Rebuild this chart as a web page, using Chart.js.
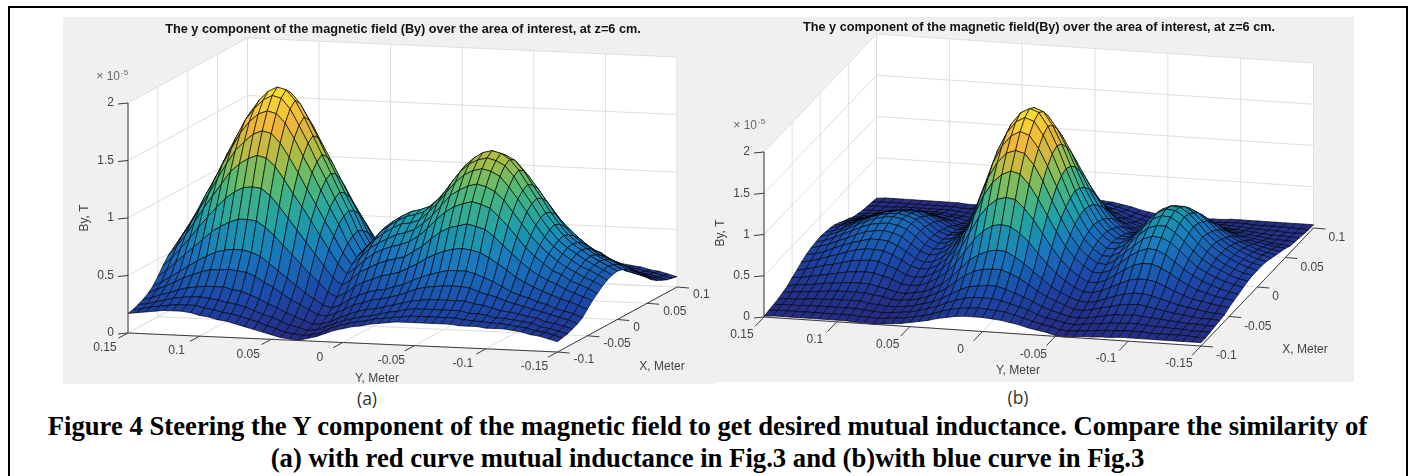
<!DOCTYPE html>
<html>
<head>
<meta charset="utf-8">
<title>Figure 4</title>
<script src="https://cdn.jsdelivr.net/npm/chart.js@4"></script>
<style>
  html, body { margin: 0; padding: 0; background: #fff; }
  #page { position: relative; width: 1410px; height: 476px; overflow: hidden; }
  #frame { position: absolute; left: 8px; top: 6px; width: 1396px; height: 480px; border: 2px solid #000; }
  canvas { position: absolute; background: #f0f0f0; }
  #chartA { left: 63px; top: 17px; }
  #chartB { left: 715px; top: 17px; }
  .sub { position: absolute; font: 17.5px "Open Sans", sans-serif; color: #333; transform: translateX(-50%); }
  .cap { position: absolute; left: 0; width: 1415px; text-align: center; font: bold 26.7px "Liberation Serif", serif; color: #000; white-space: nowrap; }
</style>
</head>
<body>
<div id="page">
  <div id="frame"></div>
  <canvas id="chartA" width="652" height="367"></canvas>
  <canvas id="chartB" width="639" height="365"></canvas>
  <div class="sub" style="left:367px;top:386px">(a)</div>
  <div class="sub" style="left:1018px;top:385px">(b)</div>
  <div class="cap" style="top:411px">Figure 4 Steering the Y component of the magnetic field to get desired mutual inductance. Compare the similarity of</div>
  <div class="cap" style="top:443px">(a) with red curve mutual inductance in Fig.3 and (b)with blue curve in Fig.3</div>
</div>
<script>
// axis ticks
const yTicks = [0.15, 0.1, 0.05, 0, -0.05, -0.1, -0.15];
const xTicks = [-0.1, -0.05, 0, 0.05, 0.1];
const zTicks = [0, 0.5, 1, 1.5, 2];

const titleA = 'The y component of the magnetic field (By) over the area of interest, at z=6 cm.';
const titleB = 'The y component of the magnetic field(By) over the area of interest, at z=6 cm.';

// By in units of 1e-7 T. Rows go from X=-0.1 to X=0, columns from Y=0.15 to Y=-0.15.
// The field is symmetric about X=0 so the rows for X>0 reuse these.
const byA0 = [17,18,19,20,21,21,21,20,18,17,15,14,12,10,8,6,4,2,1,0,2,4,7,10,12,14,15,17,18,19,20,20,20,20,20,20,20,19,19,19,18,18,18,17,16,14,13,11,9];
const byA1 = [18,19,21,22,23,24,24,24,22,21,19,18,16,14,12,9,7,4,3,2,3,5,9,12,14,16,17,19,20,21,22,23,23,23,23,23,23,22,21,21,20,20,19,18,17,15,14,12,10];
const byA2 = [20,21,23,25,27,28,29,29,28,27,25,24,22,19,16,14,11,8,6,4,5,8,11,14,16,18,19,21,23,24,26,27,27,27,27,27,27,25,25,24,22,22,21,20,19,16,15,13,11];
const byA3 = [22,24,27,29,32,34,35,36,36,36,34,33,30,27,23,20,16,13,10,7,8,10,14,17,20,22,23,25,27,29,31,32,33,33,33,33,33,31,30,28,26,25,24,22,21,18,17,15,13];
const byA4 = [25,29,32,36,40,43,46,48,48,49,48,47,44,39,35,30,25,21,17,13,12,15,19,23,25,28,29,31,33,36,39,41,42,43,43,43,42,39,37,35,32,30,28,26,24,22,20,18,15];
const byA5 = [29,33,38,43,48,53,57,61,63,64,64,62,59,53,47,41,35,29,24,19,17,20,25,29,32,34,35,38,40,44,47,50,52,54,54,54,52,49,46,42,38,35,33,30,28,25,23,21,18];
const byA6 = [35,41,48,55,62,69,76,81,85,88,88,87,82,75,67,59,51,43,36,28,24,28,34,38,41,44,46,48,52,56,61,65,68,70,71,70,68,64,59,54,48,44,40,37,34,31,29,26,23];
const byA7 = [42,49,58,67,77,86,95,103,109,113,114,113,107,98,88,78,68,58,48,38,32,37,44,48,52,55,57,59,64,69,76,82,86,88,90,88,86,80,73,66,59,53,48,44,41,37,34,31,28];
const byA8 = [48,57,67,79,91,102,113,124,131,136,139,137,130,119,107,96,84,72,60,48,39,45,52,58,62,65,67,70,75,82,90,97,102,105,107,105,102,95,87,78,69,62,56,50,47,42,39,36,32];
const byA9 = [52,63,75,88,101,115,128,140,148,155,158,156,148,136,123,109,96,82,69,55,45,52,60,65,69,73,75,78,84,91,100,109,114,118,120,118,114,107,97,87,77,69,62,56,51,47,43,40,36];
const byA10 = [56,68,81,96,110,125,139,153,163,170,173,171,163,150,135,121,106,91,77,61,49,57,65,71,76,80,81,84,91,99,109,118,125,129,131,129,125,116,106,95,84,74,66,60,55,50,47,43,39];
const byA11 = [59,71,85,101,116,132,147,162,172,180,184,182,173,159,144,128,113,97,82,65,52,60,69,75,80,84,86,89,96,104,115,125,132,136,138,136,132,123,111,100,88,78,69,63,58,53,49,45,41];
const byA12 = [60,73,87,103,119,135,151,166,177,185,189,187,178,164,148,132,116,100,84,67,54,62,71,77,82,86,88,91,98,107,118,128,135,140,142,140,135,126,114,102,90,80,71,64,59,54,50,46,42];
const gridA = [byA0, byA1, byA2, byA3, byA4, byA5, byA6, byA7, byA8, byA9, byA10, byA11, byA12, byA11, byA10, byA9, byA8, byA7, byA6, byA5, byA4, byA3, byA2, byA1, byA0];

const byB0 = [1,2,2,2,2,2,2,2,2,2,1,1,0,1,2,3,5,7,9,12,14,16,17,17,17,16,15,13,11,8,6,4,1,0,1,2,2,3,3,4,4,4,4,4,4,4,4,4,4];
const byB1 = [2,3,3,3,3,3,3,3,3,3,2,2,1,2,3,4,6,8,11,15,18,20,21,22,21,20,19,16,13,10,7,5,2,1,2,3,4,5,5,6,6,6,5,5,5,5,5,4,4];
const byB2 = [3,4,4,4,5,5,5,5,5,5,4,3,2,3,4,5,8,11,14,19,23,26,28,28,28,26,23,20,17,12,9,7,4,3,4,6,6,8,8,9,9,8,7,7,6,6,5,5,5];
const byB3 = [4,5,5,6,7,7,8,8,8,8,6,5,4,4,5,7,10,13,18,24,30,34,36,37,37,34,30,26,21,16,12,9,6,5,6,8,10,12,12,13,12,11,10,9,8,7,7,6,6];
const byB4 = [6,7,8,9,10,11,12,12,12,12,10,9,6,6,7,9,13,18,24,33,41,47,50,51,51,47,42,35,28,22,17,13,9,8,10,13,15,18,19,20,18,16,14,12,11,9,8,8,7];
const byB5 = [8,10,11,12,14,15,16,17,17,17,14,12,9,8,10,12,17,23,32,43,54,61,66,68,67,61,54,45,37,28,22,17,13,12,14,18,22,25,27,27,25,22,19,16,14,12,10,9,8];
const byB6 = [12,13,15,17,19,21,23,24,25,24,21,18,13,12,13,17,23,31,43,58,73,84,91,93,91,84,74,61,49,38,30,23,18,18,21,26,31,36,38,38,36,31,26,22,18,16,14,12,11];
const byB7 = [15,17,20,23,25,28,31,32,33,32,28,24,18,16,17,22,29,40,55,75,94,108,117,120,118,108,95,79,63,49,38,30,24,24,28,35,42,48,51,51,47,41,34,28,23,20,17,15,13];
const byB8 = [19,21,24,28,31,35,38,40,40,39,35,29,23,20,21,26,35,48,67,90,114,131,141,146,143,131,114,95,76,59,46,37,30,30,34,43,52,59,63,62,57,49,41,34,28,24,20,17,15];
const byB9 = [22,24,27,32,36,40,43,46,46,45,40,34,26,22,24,30,39,55,75,102,130,149,161,165,162,149,130,107,86,67,52,42,35,34,40,50,59,68,72,71,66,57,47,38,32,27,23,20,17];
const byB10 = [24,27,30,35,39,44,48,50,51,49,45,37,29,25,27,33,43,60,83,112,142,163,176,182,178,163,142,118,94,74,57,46,38,38,44,55,66,75,79,79,72,62,51,42,35,30,25,21,19];
const byB11 = [25,28,32,37,42,47,51,53,54,52,48,40,31,26,28,35,46,63,88,119,151,173,187,193,189,173,151,125,99,78,60,49,41,41,47,58,70,80,85,84,77,66,54,45,37,31,26,22,20];
const byB12 = [26,29,33,38,43,48,52,55,56,54,49,41,32,27,29,36,47,65,90,122,155,178,192,198,194,178,155,128,102,80,62,50,42,42,48,60,72,82,87,86,79,68,56,46,38,32,27,23,20];
const gridB = [byB0, byB1, byB2, byB3, byB4, byB5, byB6, byB7, byB8, byB9, byB10, byB11, byB12, byB11, byB10, byB9, byB8, byB7, byB6, byB5, byB4, byB3, byB2, byB1, byB0];

// parula-ish colours for the surface, low to high
const colourStops = [[0.0,[38,42,130]],[0.15,[28,72,170]],[0.32,[24,120,190]],[0.45,[30,160,170]],[0.6,[80,185,120]],[0.72,[170,190,70]],[0.85,[240,180,60]],[1.0,[248,225,50]]];

function surfaceColour(t) {
  for (let i = 1; i < colourStops.length; i++) {
    if (t <= colourStops[i][0]) {
      const a = colourStops[i - 1], b = colourStops[i];
      const f = (t - a[0]) / (b[0] - a[0]);
      return 'rgb(' + [0, 1, 2].map(k => Math.round(a[1][k] + (b[1][k] - a[1][k]) * f)).join(',') + ')';
    }
  }
  return 'rgb(248,225,50)';
}

function line(points, colour, width) {
  return { type: 'line', data: points, borderColor: colour, borderWidth: width, pointRadius: 0, fill: false, tension: 0 };
}
function patch(points, colour, edge, width) {
  return { type: 'line', data: points, backgroundColor: colour, borderColor: edge, borderWidth: width, pointRadius: 0, fill: 'shape', tension: 0 };
}

function makeChart(id, left, top, grid, title, g) {
  const canvas = document.getElementById(id);
  const yMin = yTicks[yTicks.length - 1], yMax = yTicks[0];
  const xMin = xTicks[0], xMax = xTicks[xTicks.length - 1];

  // parallel projection of (Y, X, By) to the flat chart coordinates
  function project(Y, X, z) {
    const u = (yMax - Y) / (yMax - yMin);
    const v = (X - xMin) / (xMax - xMin);
    return { x: g.ox + g.ux * u + g.vx * v, y: g.oy + g.uy * u + g.vy * v - g.zy * z };
  }

  const zTop = zTicks[zTicks.length - 1];
  const front = [];   // axis rulers, drawn over the surface
  const mesh = [];
  const back = [];    // walls and grid lines

  // walls
  const wallBack = [project(yMax, xMax, 0), project(yMin, xMax, 0), project(yMin, xMax, zTop), project(yMax, xMax, zTop), project(yMax, xMax, 0)];
  const wallLeft = [project(yMax, xMin, 0), project(yMax, xMax, 0), project(yMax, xMax, zTop), project(yMax, xMin, zTop), project(yMax, xMin, 0)];
  const floor = [project(yMax, xMin, 0), project(yMin, xMin, 0), project(yMin, xMax, 0), project(yMax, xMax, 0), project(yMax, xMin, 0)];
  const gridCol = '#dedede';
  yTicks.forEach(t => {
    back.push(line([project(t, xMin, 0), project(t, xMax, 0), project(t, xMax, zTop)], gridCol, 1));
  });
  xTicks.forEach(t => {
    back.push(line([project(yMin, t, 0), project(yMax, t, 0), project(yMax, t, zTop)], gridCol, 1));
  });
  zTicks.forEach(t => {
    back.push(line([project(yMax, xMin, t), project(yMax, xMax, t), project(yMin, xMax, t)], gridCol, 1));
  });
  back.push(patch(wallBack, '#fff', '#fff', 0), patch(wallLeft, '#fff', '#fff', 0), patch(floor, '#fff', '#fff', 0));

  // surface quads, front row first since chart.js paints the first dataset last
  const rows = grid.length, cols = grid[0].length;
  let peak = 0;
  grid.forEach(r => r.forEach(v => { peak = Math.max(peak, v); }));
  const Yat = j => yMax - (yMax - yMin) * j / (cols - 1);
  const Xat = i => xMin + (xMax - xMin) * i / (rows - 1);
  for (let i = 0; i < rows - 1; i++) {
    for (let j = cols - 2; j >= 0; j--) {
      const z00 = grid[i][j] / 100, z01 = grid[i][j + 1] / 100, z11 = grid[i + 1][j + 1] / 100, z10 = grid[i + 1][j] / 100;
      const t = (z00 + z01 + z11 + z10) / 4 / (peak / 100);
      const p0 = project(Yat(j), Xat(i), z00);
      mesh.push(patch([p0, project(Yat(j + 1), Xat(i), z01), project(Yat(j + 1), Xat(i + 1), z11), project(Yat(j), Xat(i + 1), z10), p0],
        surfaceColour(t), 'rgba(0,0,0,0.85)', 0.75));
    }
  }

  // rulers and ticks
  const rulerCol = '#3c3c3c';
  front.push(line([project(yMax, xMin, 0), project(yMax, xMin, zTop)], rulerCol, 1));
  front.push(line([project(yMax, xMin, 0), project(yMin, xMin, 0), project(yMin, xMax, 0)], rulerCol, 1));
  zTicks.forEach(t => {
    const p = project(yMax, xMin, t);
    front.push(line([p, { x: p.x - 10, y: p.y + 1 }], rulerCol, 1));
  });
  yTicks.forEach(t => {
    const p = project(t, xMin, 0);
    front.push(line([p, { x: p.x - g.vx * 0.08, y: p.y - g.vy * 0.08 }], rulerCol, 1));
  });
  xTicks.forEach(t => {
    const p = project(yMin, t, 0);
    front.push(line([p, { x: p.x + 12, y: p.y + 1 }], rulerCol, 1));
  });

  const labels = {
    id: 'labels',
    afterDraw(chart) {
      const ctx = chart.ctx, sx = chart.scales.x, sy = chart.scales.y;
      const text = (s, x, y, align, font, colour) => {
        ctx.font = font;
        ctx.fillStyle = colour || '#444';
        ctx.textAlign = align;
        ctx.textBaseline = 'middle';
        ctx.fillText(s, sx.getPixelForValue(x), sy.getPixelForValue(y));
      };
      const tickFont = '12px "Liberation Sans"';
      yTicks.forEach(t => {
        const p = project(t, xMin, 0);
        text(String(t), p.x + g.yLabel[0], p.y + g.yLabel[1], 'center', tickFont);
      });
      xTicks.forEach(t => {
        const p = project(yMin, t, 0);
        text(String(t), p.x + g.xLabel[0], p.y + g.xLabel[1], 'left', tickFont);
      });
      zTicks.forEach(t => {
        const p = project(yMax, xMin, t);
        text(String(t), p.x - 14, p.y, 'right', tickFont);
      });
      text('\u00d7 10', g.exp[0], g.exp[1], 'right', '12px "Liberation Sans"', '#666');
      text('-5', g.exp[0] + 1, g.exp[1] - 4, 'left', '8px "Liberation Sans"', '#666');
      text(title, g.title[0], g.title[1], 'center', 'bold 12.7px "Liberation Sans"', '#111');
      text('Y, Meter', g.yName[0], g.yName[1], 'center', tickFont);
      text('X, Meter', g.xName[0], g.xName[1], 'center', tickFont);
      ctx.save();
      ctx.translate(sx.getPixelForValue(g.zName[0]), sy.getPixelForValue(g.zName[1]));
      ctx.rotate(-Math.PI / 2);
      ctx.font = tickFont;
      ctx.fillStyle = '#444';
      ctx.textAlign = 'center';
      ctx.textBaseline = 'middle';
      ctx.fillText('By, T', 0, 0);
      ctx.restore();
    }
  };

  return new Chart(canvas, {
    type: 'scatter',
    data: { datasets: front.concat(mesh, back) },
    options: {
      responsive: false,
      animation: false,
      devicePixelRatio: 1,
      events: [],
      layout: { padding: 0 },
      plugins: { legend: { display: false }, tooltip: { enabled: false }, title: { display: false } },
      scales: {
        x: { type: 'linear', display: false, min: left, max: left + canvas.width },
        y: { type: 'linear', display: false, reverse: true, min: top, max: top + canvas.height }
      }
    },
    plugins: [labels]
  });
}

makeChart('chartA', 63, 17, gridA, titleA, {
  ox: 128, oy: 333, ux: 429.5, uy: 19, vx: 119.5, vy: -65, zy: 115,
  yLabel: [-23, 15], xLabel: [16, 8], exp: [120, 77], title: [403, 29],
  yName: [377, 379], xName: [662, 367], zName: [85, 218]
});
makeChart('chartB', 715, 17, gridB, titleB, {
  ox: 764, oy: 317, ux: 437, uy: 29, vx: 112.5, vy: -118, zy: 82.5,
  yLabel: [-22, 18], xLabel: [15, 10], exp: [757, 126], title: [1039, 27],
  yName: [1018, 371], xName: [1305, 350], zName: [721, 233]
});
</script>
</body>
</html>
